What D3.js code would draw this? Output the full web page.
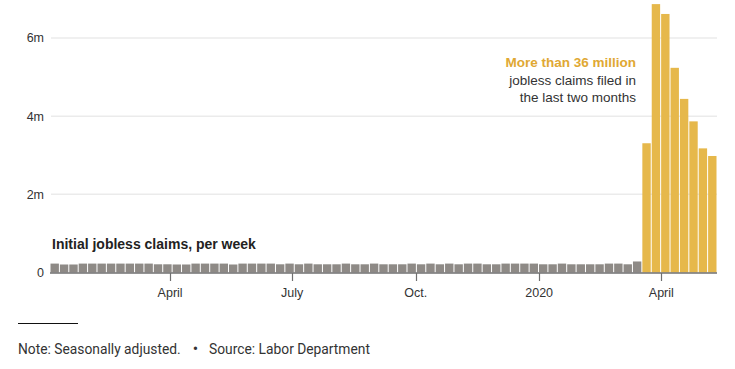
<!DOCTYPE html>
<html>
<head>
<meta charset="utf-8">
<script src="https://cdn.jsdelivr.net/npm/d3@7"></script>
<style>
  html, body { margin: 0; padding: 0; background: #fff; }
  svg { display: block; }
</style>
</head>
<body>
<svg id="chart" width="735" height="369"></svg>
<script>
// ---- Data (thousands of initial claims, weekly, week ending Saturday) ----
const firstWeek = "2019-01-05";
const grayClaims = [
  228,205,205,228,228,228,228,228,228,228,228,210,
  210,205,205,228,228,228,228,205,228,228,228,228,
  210,228,210,228,210,210,210,228,210,210,228,210,
  210,210,228,210,228,210,228,210,228,228,
  210,210,228,228,228,228,210,210,228,210,210,210,210,228,228,210,282
];
const pandemicClaims = [3307, 6867, 6615, 5237, 4442, 3867, 3176, 2981];
const yTicks = [0, 2000, 4000, 6000];
const yTickLabels = ["0", "2m", "4m", "6m"];
const xTickDates = ["2019-04-01", "2019-07-01", "2019-10-01", "2020-01-01", "2020-04-01"];
const xTickLabels = ["April", "July", "Oct.", "2020", "April"];
const title = "Initial jobless claims, per week";
const noteLines = ["More than 36 million", "jobless claims filed in", "the last two months"];
const footer = ["Note: Seasonally adjusted.", "Source: Labor Department"];

const parse = d3.utcParse("%Y-%m-%d");
const start = parse(firstWeek);
const values = grayClaims.concat(pandemicClaims);
const data = values.map((v, i) => ({
  date: d3.utcDay.offset(start, 7 * i),
  value: v,
  hi: i >= grayClaims.length
}));

const svg = d3.select("#chart");
const halfWeek = 3.5 * 864e5;
const x = d3.scaleUtc()
  .domain([new Date(+data[0].date - halfWeek), new Date(+data[data.length - 1].date + halfWeek)])
  .range([50, 717]);
const y = d3.scaleLinear().domain([0, 6000]).range([272.5, 38]);

// gridlines
svg.append("g").selectAll("line")
  .data(yTicks.filter(d => d > 0))
  .join("line")
  .attr("x1", 51).attr("x2", 717)
  .attr("y1", d => y(d)).attr("y2", d => y(d))
  .attr("stroke", "#ebebeb").attr("stroke-width", 1.5);

// y labels
svg.append("g").selectAll("text")
  .data(yTicks)
  .join("text")
  .attr("x", 44).attr("y", d => y(d))
  .attr("dy", "0.35em")
  .attr("text-anchor", "end")
  .attr("font-family", "Liberation Sans, Arial, sans-serif")
  .attr("font-size", 12.5)
  .attr("fill", "#333")
  .text((d, i) => yTickLabels[i]);

// bars
svg.append("g").selectAll("rect")
  .data(data)
  .join("rect")
  .attr("x", d => x(new Date(+d.date - halfWeek)) + 0.5)
  .attr("width", d => x(new Date(+d.date + halfWeek)) - x(new Date(+d.date - halfWeek)) - 1)
  .attr("y", d => y(d.value))
  .attr("height", d => y(0) - y(d.value))
  .attr("fill", d => d.hi ? "#e6b84b" : "#8e8a86");

// x axis line
const axisG = svg.append("g");
axisG.append("line")
  .attr("x1", 50).attr("x2", 717)
  .attr("y1", 273).attr("y2", 273)
  .attr("stroke", "#6f6f6f").attr("stroke-width", 1.5);
const xt = xTickDates.map(parse);
axisG.selectAll("line.tick")
  .data(xt)
  .join("line")
  .attr("class", "tick")
  .attr("x1", d => Math.round(x(d)) + 0.5).attr("x2", d => Math.round(x(d)) + 0.5)
  .attr("y1", 273).attr("y2", 281)
  .attr("stroke", "#6f6f6f").attr("stroke-width", 1.2);
axisG.selectAll("text")
  .data(xt)
  .join("text")
  .attr("x", d => x(d)).attr("y", 297)
  .attr("text-anchor", "middle")
  .attr("font-family", "Liberation Sans, Arial, sans-serif")
  .attr("font-size", 12.5)
  .attr("fill", "#333")
  .text((d, i) => xTickLabels[i]);

// title
svg.append("text")
  .attr("x", 52).attr("y", 249)
  .attr("font-family", "Liberation Sans, Arial, sans-serif")
  .attr("font-weight", "bold")
  .attr("font-size", 14)
  .attr("fill", "#222")
  .text(title);

// annotation
const ann = svg.append("text")
  .attr("text-anchor", "end")
  .attr("font-family", "Liberation Sans, Arial, sans-serif")
  .attr("font-size", 13.5);
noteLines.forEach((t, i) => {
  ann.append("tspan")
    .attr("x", 636).attr("y", 67 + i * 17.5)
    .attr("font-weight", i === 0 ? "bold" : "normal")
    .attr("fill", i === 0 ? "#e0a833" : "#333")
    .text(t);
});

// footer
svg.append("line")
  .attr("x1", 18).attr("x2", 78).attr("y1", 323.5).attr("y2", 323.5)
  .attr("stroke", "#111").attr("stroke-width", 1);
const ft = svg.append("text")
  .attr("x", 18).attr("y", 354)
  .attr("font-family", "Roboto, Liberation Sans, Arial, sans-serif")
  .attr("font-size", 13.8)
  .attr("fill", "#333");
ft.append("tspan").text(footer[0]);
ft.append("tspan").attr("dx", 12).attr("font-size", 16).text("•");
ft.append("tspan").attr("dx", 11).text(footer[1]);
</script>
</body>
</html>
